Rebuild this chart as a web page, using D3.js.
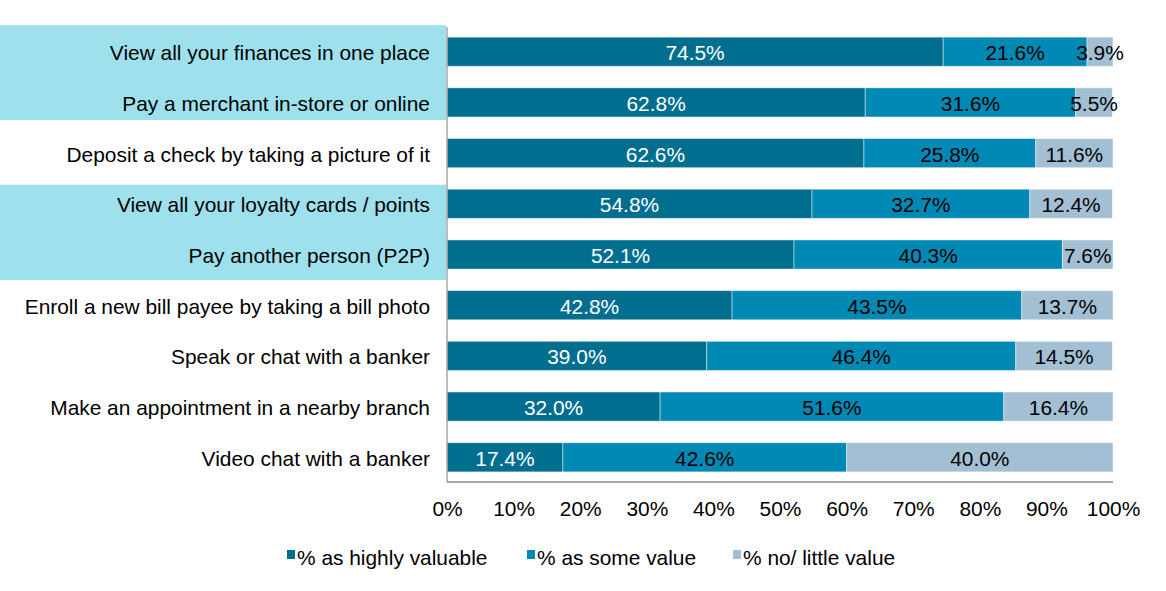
<!DOCTYPE html>
<html><head><meta charset="utf-8">
<script src="https://cdn.jsdelivr.net/npm/d3@7/dist/d3.min.js"></script>
<style>body{margin:0;background:#fff}svg{display:block}text{font-family:"Liberation Sans",Arial,sans-serif}</style>
</head><body><svg id="c" width="1166" height="591"></svg>
<script>
const categories = [
  "View all your finances in one place",
  "Pay a merchant in-store or online",
  "Deposit a check by taking a picture of it",
  "View all your loyalty cards / points",
  "Pay another person (P2P)",
  "Enroll a new bill payee by taking a bill photo",
  "Speak or chat with a banker",
  "Make an appointment in a nearby branch",
  "Video chat with a banker"
];
const highlyValuable = [74.5, 62.8, 62.6, 54.8, 52.1, 42.8, 39.0, 32.0, 17.4];
const someValue      = [21.6, 31.6, 25.8, 32.7, 40.3, 43.5, 46.4, 51.6, 42.6];
const littleValue    = [3.9, 5.5, 11.6, 12.4, 7.6, 13.7, 14.5, 16.4, 40.0];
const seriesNames = ["% as highly valuable", "% as some value", "% no/ little value"];
const tickValues = [0, 10, 20, 30, 40, 50, 60, 70, 80, 90, 100];

const colors = ["#006F8F", "#0089B4", "#A3BFD3"];
const labelColors = ["#ffffff", "#000000", "#000000"];
const FS = 20.9;

const svg = d3.select("#c");
const pLeft = 447, pRight = 1113, pTop = 27, pBottom = 482;
const x = d3.scaleLinear().domain([0, 100]).range([pLeft, pRight]);
const y = d3.scaleBand().domain(categories).range([pTop, pBottom]).paddingInner(0.425).paddingOuter(0.2);

// highlight boxes
const hb = [
  {y0: y(categories[0]) - 12, y1: y(categories[1]) + y.bandwidth() + 3},
  {y0: y(categories[3]) - 4.5, y1: y(categories[4]) + y.bandwidth() + 11}
];
svg.selectAll("rect.hl").data(hb).join("rect").attr("class","hl")
  .attr("x", 0).attr("width", 446).attr("y", d => d.y0).attr("height", d => d.y1 - d.y0)
  .attr("fill", "#9EE0EC");

const rows = categories.map((c, i) => ({cat: c, vals: [highlyValuable[i], someValue[i], littleValue[i]]}));
const segs = [];
rows.forEach(r => {
  let acc = 0;
  r.vals.forEach((v, k) => { segs.push({cat: r.cat, k, v, x0: acc, x1: acc + v}); acc += v; });
});

svg.selectAll("rect.seg").data(segs).join("rect").attr("class","seg")
  .attr("x", d => x(d.x0)).attr("width", d => x(Math.min(d.x1,100)) - x(d.x0))
  .attr("y", d => y(d.cat)).attr("height", y.bandwidth())
  .attr("fill", d => colors[d.k]).attr("stroke", "rgba(255,255,255,0.45)").attr("stroke-width", 1);

svg.selectAll("text.lab").data(segs).join("text").attr("class","lab")
  .attr("x", d => x((d.x0 + Math.min(d.x1,100)) / 2)).attr("y", d => y(d.cat) + y.bandwidth()/2 + 1)
  .attr("dy", "0.36em").attr("text-anchor", "middle").attr("font-size", FS)
  .attr("fill", d => labelColors[d.k]).text(d => d.v.toFixed(1) + "%");

// category labels
svg.selectAll("text.cat").data(categories).join("text").attr("class","cat")
  .attr("x", 430).attr("y", d => y(d) + y.bandwidth()/2 + 1).attr("dy", "0.36em")
  .attr("text-anchor", "end").attr("font-size", FS).attr("fill", "#000").text(d => d);

// axes lines
svg.append("line").attr("x1", pLeft).attr("x2", pLeft).attr("y1", pTop).attr("y2", pBottom)
  .attr("stroke", "#a6a6a6").attr("stroke-width", 1.5);
svg.append("line").attr("x1", pLeft).attr("x2", pRight).attr("y1", pBottom).attr("y2", pBottom)
  .attr("stroke", "#a6a6a6").attr("stroke-width", 2);

const xa = svg.append("g").attr("transform", `translate(0,${pBottom})`)
  .call(d3.axisBottom(x).tickValues(tickValues).tickSize(0).tickPadding(19).tickFormat(d => d + "%"));
xa.select(".domain").remove();
xa.selectAll("text").attr("font-size", FS).attr("fill", "#000").style("font-family", '"Liberation Sans",Arial,sans-serif');

// legend
const legX = [287, 527, 733];
const lg = svg.selectAll("g.leg").data(seriesNames).join("g").attr("class","leg")
  .attr("transform", (d, i) => `translate(${legX[i]},557)`);
lg.append("rect").attr("x", 0).attr("y", -7).attr("width", 8).attr("height", 9)
  .attr("fill", (d, i) => colors[i]);
lg.append("text").attr("x", 10).attr("y", 0).attr("dy", "0.36em").attr("font-size", FS).attr("fill", "#000").text(d => d);
</script></body></html>
